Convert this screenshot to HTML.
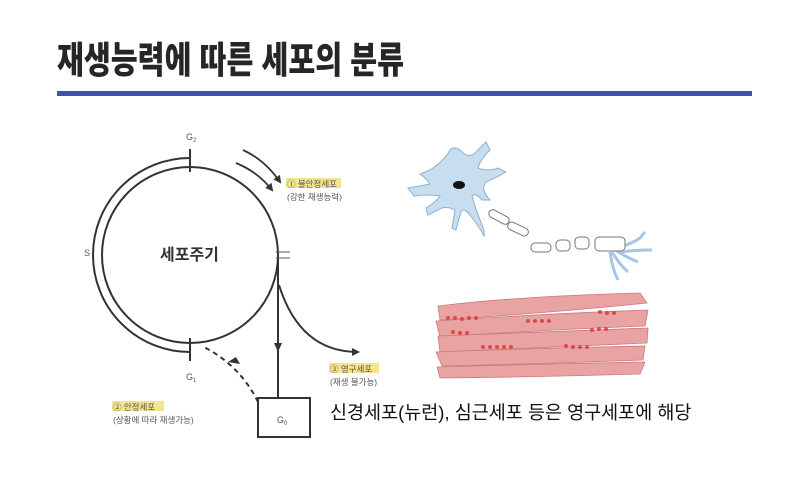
<!DOCTYPE html>
<html><head><meta charset="utf-8"><style>
body{margin:0;width:800px;height:477px;background:#fff;overflow:hidden;position:relative;font-family:"Liberation Sans","Noto Sans CJK KR",sans-serif}
.t{position:absolute;left:57px;top:30px;font-size:37px;font-weight:900;color:#262626;transform:scaleX(0.79);transform-origin:left top;white-space:nowrap;letter-spacing:0px}
.bar{position:absolute;left:57px;top:91px;width:695px;height:5px;background:#3f51a8}
.cap{position:absolute;left:330px;top:399px;font-size:18.5px;color:#111;white-space:nowrap}
</style></head><body>
<div class="t">재생능력에 따른 세포의 분류</div>
<div class="bar"></div>
<svg width="800" height="477" style="position:absolute;left:0;top:0" font-family="Liberation Sans, Noto Sans CJK KR, sans-serif">
<defs>
<marker id="a" markerWidth="8" markerHeight="8" refX="6" refY="4" orient="auto" markerUnits="userSpaceOnUse"><path d="M0,0 L8,4 L0,8 z" fill="#333"/></marker>
</defs>
<g stroke="#333" stroke-width="2" fill="none">
<circle cx="190" cy="255" r="88"/>
<path d="M190,158 A97,97 0 0 0 190,352"/>
<line x1="190" y1="149" x2="190" y2="172"/>
<line x1="190" y1="338" x2="190" y2="361"/>
<line x1="278" y1="255" x2="278" y2="398"/>
<path d="M279,285 Q300,352 358,352" marker-end="url(#a)"/>
<path d="M243,150 Q265,160 280,182" marker-end="url(#a)" stroke-width="1.8"/>
<path d="M236,163 Q258,172 272,190" marker-end="url(#a)" stroke-width="1.8"/>
<path d="M258,402 Q240,365 202,346" stroke-dasharray="5,4"/>
<rect x="258" y="398" width="52" height="39"/>
</g>
<path d="M236,357 L228,362 L240,364 z" fill="#333"/>
<path d="M274,343 L282,343 L278,352 z" fill="#333"/>
<g stroke="#555" stroke-width="1"><line x1="276" y1="252" x2="290" y2="252"/><line x1="276" y1="258" x2="290" y2="258"/></g>
<g font-size="9" fill="#555">
<text x="186" y="140">G<tspan font-size="6" dy="2">2</tspan></text>
<text x="186" y="380">G<tspan font-size="6" dy="2">1</tspan></text>
<text x="84" y="256">S</text>
<text x="277" y="423">G<tspan font-size="6" dy="2">0</tspan></text>
</g>
<text x="160" y="260" font-size="16" font-weight="bold" fill="#333">세포주기</text>
<rect x="286" y="178" width="55" height="10" fill="#f5e58a"/>
<rect x="329" y="363" width="50" height="10" fill="#f5e58a"/>
<rect x="112" y="401" width="52" height="10" fill="#f5e58a"/>
<g font-size="8.5" fill="#555">
<text x="287" y="187">① 불안정세포</text><text x="287" y="200">(강한 재생능력)</text>
<text x="330" y="372">③ 영구세포</text><text x="330" y="385">(재생 불가능)</text>
<text x="113" y="410">② 안정세포</text><text x="113" y="423">(상황에 따라 재생가능)</text>
</g>
<!-- neuron -->
<g fill="#c7ddf0" stroke="#8fb0cc" stroke-width="1">
<path d="M430,170 Q445,160 450,150 Q455,145 462,152 Q470,160 478,150 L486,142 L490,150 Q480,160 478,168 Q488,172 498,168 L506,172 Q496,178 486,182 Q480,190 490,200 L482,200 Q475,192 472,196 Q476,210 482,225 Q485,232 484,236 Q480,228 470,215 Q462,205 460,215 L456,230 L452,228 L455,210 Q445,205 438,210 L428,215 L426,208 Q436,202 440,196 Q428,194 414,196 L408,188 Q420,186 430,184 Q426,178 420,174 z"/>
<path d="M615,248 Q630,245 640,238 L645,232 M615,250 Q628,258 638,262 M612,252 Q620,265 628,272 M610,252 Q612,268 618,280 M620,252 Q635,250 652,250" fill="none" stroke="#a8c6e2" stroke-width="3"/>
</g>
<ellipse cx="459" cy="185" rx="6" ry="4" fill="#111"/>
<g fill="#fff" stroke="#777" stroke-width="1">
<rect x="488" y="213" width="22" height="8" rx="4" transform="rotate(28 499 217)"/>
<rect x="507" y="225" width="22" height="8" rx="4" transform="rotate(25 518 229)"/>
<rect x="531" y="243" width="20" height="9" rx="4"/>
<rect x="556" y="240" width="14" height="11" rx="4"/>
<rect x="575" y="237" width="14" height="12" rx="4"/>
<rect x="595" y="237" width="30" height="14" rx="4"/>
</g>
<!-- muscle -->
<g fill="#e9a3a3" stroke="#c97a7a" stroke-width="0.8">
<path d="M438,306 Q520,296 640,293 L647,303 Q560,312 440,320 z"/>
<path d="M436,321 Q540,314 648,310 L645,326 Q540,330 440,337 z"/>
<path d="M438,336 Q540,332 648,328 L647,343 Q540,348 440,352 z"/>
<path d="M436,352 Q540,348 645,346 L643,360 Q540,364 442,366 z"/>
<path d="M437,367 Q540,364 645,362 L640,374 Q540,377 440,378 z"/>
</g>
<g fill="#d33" opacity="0.8">
<circle cx="448" cy="318" r="2"/><circle cx="455" cy="318" r="2"/><circle cx="462" cy="319" r="2"/><circle cx="469" cy="318" r="2"/><circle cx="476" cy="318" r="2"/>
<circle cx="528" cy="321" r="2"/><circle cx="535" cy="321" r="2"/><circle cx="542" cy="321" r="2"/><circle cx="549" cy="321" r="2"/>
<circle cx="600" cy="312" r="2"/><circle cx="607" cy="313" r="2"/><circle cx="614" cy="313" r="2"/>
<circle cx="453" cy="332" r="2"/><circle cx="460" cy="333" r="2"/><circle cx="467" cy="333" r="2"/>
<circle cx="592" cy="330" r="2"/><circle cx="599" cy="329" r="2"/><circle cx="606" cy="329" r="2"/>
<circle cx="483" cy="347" r="2"/><circle cx="490" cy="347" r="2"/><circle cx="497" cy="347" r="2"/><circle cx="504" cy="347" r="2"/><circle cx="511" cy="347" r="2"/>
<circle cx="566" cy="346" r="2"/><circle cx="573" cy="347" r="2"/><circle cx="580" cy="347" r="2"/><circle cx="587" cy="347" r="2"/>
</g>
</svg>
<div class="cap">신경세포(뉴런), 심근세포 등은 영구세포에 해당</div>
</body></html>
